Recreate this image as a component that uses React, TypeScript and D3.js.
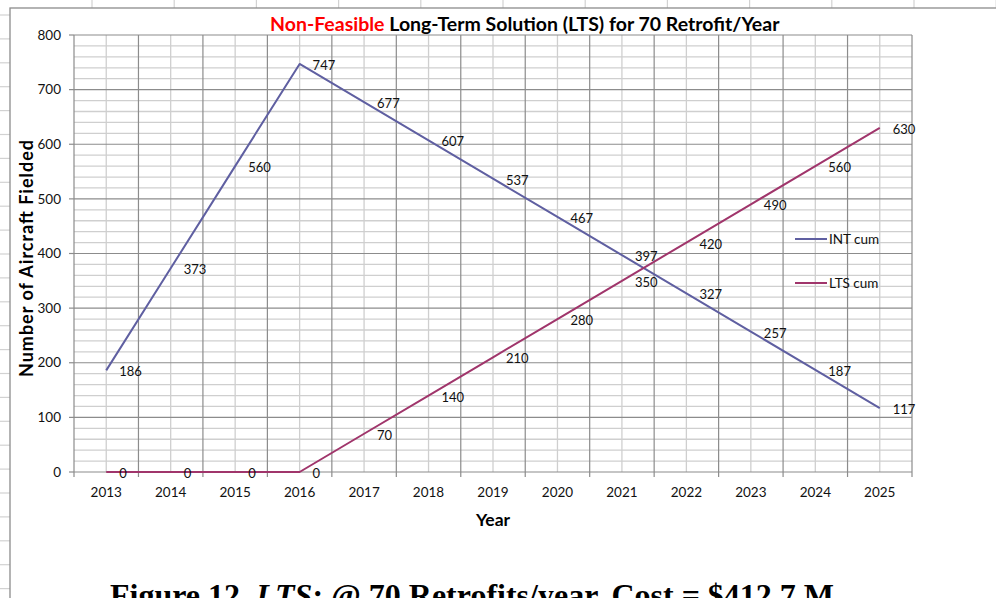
import React from "react";
import * as d3 from "d3";

const years = ["2013", "2014", "2015", "2016", "2017", "2018", "2019", "2020", "2021", "2022", "2023", "2024", "2025"];
const intCum = [186, 373, 560, 747, 677, 607, 537, 467, 397, 327, 257, 187, 117];
const ltsCum = [0, 0, 0, 0, 70, 140, 210, 280, 350, 420, 490, 560, 630];
const yTicks = [0, 100, 200, 300, 400, 500, 600, 700, 800];
const seriesNames = ["INT cum", "LTS cum"];

const W = 996;
const H = 598;
const plot = { left: 74, right: 912, top: 35, bottom: 472 };
const INT_COLOR = "#5f5fa1";
const LTS_COLOR = "#a0356b";
const MAJOR = "#8c8c8c";
const MINOR = "#cfcfcf";
const SHEET = "#d2d2d2";
const FONT = "Lato, 'Open Sans', sans-serif";

export default function App() {
  const x = d3.scaleBand<string>().domain(years).range([plot.left, plot.right]).padding(0);
  const y = d3.scaleLinear().domain([0, 800]).range([plot.bottom, plot.top]);
  const bw = x.bandwidth();
  const cx = (yr: string) => (x(yr) as number) + bw / 2;

  const line = d3
    .line<number>()
    .x((_, i) => cx(years[i]))
    .y((d) => y(d));

  const minorY = d3.range(0, 801, 20).filter((v) => v % 100 !== 0);
  const boundaries = years.map((yr) => x(yr) as number).concat([plot.right]);

  // background spreadsheet cell lines
  const sheetCols = d3.range(0, 12).map((i) => 92 + i * 82.2);
  const sheetRows = d3.range(0, 25).map((i) => 15 + i * 23.9);

  const series = [
    { name: seriesNames[0], values: intCum, color: INT_COLOR },
    { name: seriesNames[1], values: ltsCum, color: LTS_COLOR },
  ];

  return (
    <div style={{ position: "fixed", left: 0, top: 0 }}>
      <svg width={W} height={H} style={{ display: "block", background: "#fff" }}>
        {sheetCols.map((c, i) => (
          <line key={"sc" + i} x1={c} x2={c} y1={0} y2={8} stroke={SHEET} strokeWidth={1.2} />
        ))}
        {sheetRows.map((r, i) => (
          <line key={"sr" + i} x1={0} x2={10} y1={r} y2={r} stroke={SHEET} strokeWidth={1.2} />
        ))}
        {/* chart area frame */}
        <rect x={10} y={8} width={W + 20} height={H + 20} fill="#fff" stroke={MAJOR} strokeWidth={1.3} />

        {/* title */}
        <text x={270} y={31} fontFamily={FONT} fontWeight={700} fontSize={19.5}>
          <tspan fill="#ff0000">Non-Feasible</tspan>
          <tspan fill="#000"> Long-Term Solution (LTS) for 70 Retrofit/Year</tspan>
        </text>

        {/* minor gridlines */}
        {minorY.map((v) => (
          <line key={"mh" + v} x1={plot.left} x2={plot.right} y1={y(v)} y2={y(v)} stroke={MINOR} strokeWidth={1.3} />
        ))}
        {years.map((yr) => (
          <line key={"mv" + yr} x1={cx(yr)} x2={cx(yr)} y1={plot.top} y2={plot.bottom} stroke={MINOR} strokeWidth={1.3} />
        ))}
        {/* major gridlines */}
        {yTicks.map((v) => (
          <line key={"Mh" + v} x1={plot.left} x2={plot.right} y1={y(v)} y2={y(v)} stroke={MAJOR} strokeWidth={1.2} />
        ))}
        {boundaries.map((b, i) => (
          <line key={"Mv" + i} x1={b} x2={b} y1={plot.top} y2={plot.bottom} stroke={MAJOR} strokeWidth={1.2} />
        ))}

        {/* axis ticks */}
        {yTicks.map((v) => (
          <line key={"yt" + v} x1={plot.left - 5} x2={plot.left} y1={y(v)} y2={y(v)} stroke={MAJOR} strokeWidth={1.2} />
        ))}
        {boundaries.map((b, i) => (
          <line key={"xt" + i} x1={b} x2={b} y1={plot.bottom} y2={plot.bottom + 5} stroke={MAJOR} strokeWidth={1.2} />
        ))}

        {/* tick labels */}
        {yTicks.map((v) => (
          <text key={"yl" + v} x={61} y={y(v)} dy="0.35em" textAnchor="end" fontFamily={FONT} fontSize={13.5} fill="#111">
            {v}
          </text>
        ))}
        {years.map((yr) => (
          <text key={"xl" + yr} x={cx(yr)} y={497} textAnchor="middle" fontFamily={FONT} fontSize={13.5} fill="#111">
            {yr}
          </text>
        ))}

        {/* axis titles */}
        <text
          transform={`translate(33,${(plot.top + plot.bottom) / 2 + 5}) rotate(-90)`}
          textAnchor="middle"
          fontFamily={FONT}
          fontWeight={700}
          fontSize={18}
          textLength={237}
          lengthAdjust="spacing"
          fill="#000"
        >
          Number of Aircraft Fielded
        </text>
        <text x={(plot.left + plot.right) / 2} y={526} textAnchor="middle" fontFamily={FONT} fontWeight={700} fontSize={17.5} fill="#000">
          Year
        </text>

        {/* series lines */}
        {series.map((s) => (
          <path key={s.name} d={line(s.values) || ""} fill="none" stroke={s.color} strokeWidth={2} strokeLinejoin="round" />
        ))}

        {/* data labels */}
        {series.map((s) =>
          s.values.map((v, i) => (
            <text
              key={s.name + i}
              x={cx(years[i]) + 13}
              y={y(v) + 1.5}
              dy="0.35em"
              fontFamily={FONT}
              fontSize={13}
              fill="#111"
            >
              {v}
            </text>
          ))
        )}

        {/* legend */}
        {series.map((s, i) => (
          <g key={"lg" + s.name} transform={`translate(795,${239 + i * 44})`}>
            <line x1={0} x2={32} y1={0} y2={0} stroke={s.color} strokeWidth={2} />
            <text x={34} y={0} dy="0.35em" fontFamily={FONT} fontSize={13.5} fill="#111">
              {s.name}
            </text>
          </g>
        ))}

        {/* caption below the chart */}
        <text x={110} y={606} fontFamily="'Liberation Serif', 'Times New Roman', serif" fontWeight={700} fontSize={32} fill="#000">
          <tspan>Figure 12. </tspan>
          <tspan fontStyle="italic">LTS</tspan>
          <tspan>: @ 70 Retrofits/year, Cost = $412.7 M</tspan>
        </text>
      </svg>
    </div>
  );
}
